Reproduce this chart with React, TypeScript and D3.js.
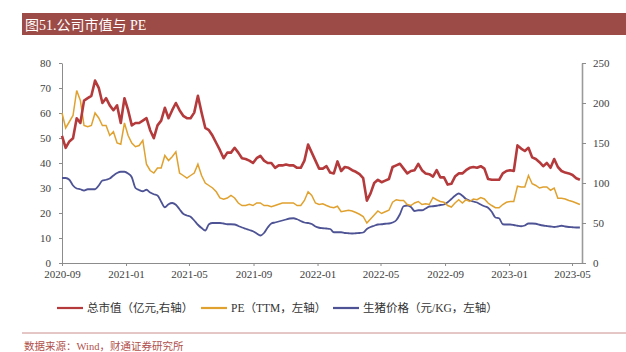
import React, { useEffect, useRef } from 'react';
import * as d3 from 'd3';

// weekly observations starting 2020-09-01
const startDate = '2020-09-01';

// 总市值 (亿元, right axis)
const marketCap = [
  159, 144, 152, 156, 181, 175, 203, 206, 209, 228, 219, 200, 206, 197, 191, 197, 175, 206, 191, 172,
  175, 175, 178, 181, 166, 156, 172, 178, 194, 181, 191, 200, 191, 184, 181, 181, 188, 209, 188, 169,
  166, 159, 150, 141, 131, 138, 138, 144, 138, 131, 130, 128, 125, 131, 134, 128, 125, 125, 119, 122,
  122, 123, 122, 122, 119, 119, 128, 148, 138, 128,
  118, 118, 121, 113, 112, 127, 115, 120, 119, 116, 114, 111, 106, 78, 87, 100, 104, 101, 103, 105,
  120, 122, 124, 118, 112, 115, 116, 124, 116, 112, 111, 108, 116, 107, 107, 98, 99, 108, 112, 112,
  116, 119, 120, 119, 121, 118, 105, 104, 104, 104, 112, 115, 116, 115, 147, 143, 140, 144, 132, 130,
  126, 121, 125, 119, 130, 120, 115, 113, 112, 110, 106, 104,
];

// PE TTM (left axis)
const pe = [
  60, 54, 56.5, 59, 69, 65, 55, 54.5, 55, 60, 58, 55, 55, 51, 52.5, 48, 47.5, 56, 51, 48,
  46.5, 47, 49, 39.5, 37, 36, 38, 38, 43, 41, 42.5, 44.5, 36, 35, 34, 35, 36, 39.5, 35, 32,
  31, 30, 28.5, 26, 25.5, 26, 27, 26, 24, 23, 23, 23.5, 23, 24, 24, 23, 23, 22.5, 23, 23.5,
  24, 24, 24, 24, 23, 23, 25, 28.5, 27, 24,
  23.4, 23.7, 23, 22.4, 22.1, 22.7, 20.5, 20.8, 21.1, 20.8, 20.2, 19.5, 18.6, 16, 17.6, 19.2, 20.8, 19.8, 20.5, 21.1,
  24.3, 25.3, 25, 25, 23.4, 23, 24, 24.6, 23.4, 23.7, 23.4, 26.2, 25.3, 24.6, 24.3, 23, 22.4, 24, 25.3, 24,
  25.3, 24.6, 25.6, 25.3, 26.2, 25.6, 24, 23, 22.1, 22.1, 23.4, 24.3, 24.6, 24.6, 30.7, 30.4, 30.4, 35, 31.7, 31,
  30, 30.4, 30.4, 29.1, 30, 25.9, 25.9, 25.6, 25, 24.6, 24, 23.4,
];

// 生猪价格 (元/KG, left axis)
const hogPrice = [
  34, 34, 33.3, 31, 29.8, 29.5, 29, 29.5, 29.5, 29.5, 31, 33, 33.3, 33.8, 35, 36, 36.5, 36.5, 35.8, 34.3,
  30, 29.2, 28.7, 29.3, 28.2, 27.5, 27, 24.5, 22.3, 23.5, 24, 23.3, 21.5, 19.7, 19, 18.5, 17, 15.3, 14, 13,
  15.5, 16, 16, 16, 15.8, 15.5, 15.5, 15.4, 14.8, 14.2, 13.7, 13.2, 12.7, 11.8, 11, 12, 14.2, 15.8, 16.2, 16.6,
  17, 17.4, 17.8, 17.9, 17.5, 16.8, 16.2, 16, 15.6, 14.6,
  14.1, 13.9, 13.8, 13.6, 12.3, 12.3, 12.3, 12, 11.9, 11.8, 11.9, 12, 12.2, 13.6, 14.4, 14.9, 15.4, 15.5, 15.7, 15.8,
  16.2, 17.1, 19.5, 22.7, 23, 22.4, 20.8, 21.1, 21.1, 21.8, 22.6, 22.7, 22.9, 23.2, 23.4, 24.3, 25.6, 26.9, 27.8, 26.9,
  25.6, 25, 24.6, 24.2, 23.4, 22.7, 22.1, 20.5, 18.2, 17.9, 15.5, 15.4, 15.4, 15.2, 14.9, 14.7, 15, 15.8, 15.8, 15.7,
  15.3, 15, 14.8, 14.6, 14.4, 14.6, 14.9, 14.6, 14.4, 14.3, 14.2, 14.2,
];

const leftTicks = [0, 10, 20, 30, 40, 50, 60, 70, 80];
const rightTicks = [0, 50, 100, 150, 200, 250];
const xTicks = ['2020-09-01', '2021-01-01', '2021-05-01', '2021-09-01', '2022-01-01', '2022-05-01', '2022-09-01', '2023-01-01', '2023-05-01'];
const xEnd = '2023-05-20';

const legendItems = [
  { label: '总市值（亿元,右轴）', color: '#B43A3C' },
  { label: 'PE（TTM，左轴）', color: '#E0A12E' },
  { label: '生猪价格（元/KG，左轴）', color: '#4D5394' },
];

const FONT = '"Liberation Serif", "Noto Sans CJK SC", serif';

const App: React.FC = () => {
  const svgRef = useRef<SVGSVGElement>(null);

  useEffect(() => {
    if (!svgRef.current) return;
    const svg = d3.select(svgRef.current);
    svg.selectAll('*').remove();

    const parse = d3.timeParse('%Y-%m-%d');
    const t0 = parse(startDate) as Date;
    const dates = marketCap.map((_, i) => d3.timeDay.offset(t0, 7 * i));

    const left = 62, right = 582, top = 63, bottom = 263;

    const x = d3.scaleTime()
      .domain([t0, parse(xEnd) as Date])
      .range([left, right]);
    const yL = d3.scaleLinear().domain([0, 80]).range([bottom, top]);
    const yR = d3.scaleLinear().domain([0, 250]).range([bottom, top]);

    // title bar
    svg.append('rect')
      .attr('x', 22).attr('y', 13).attr('width', 604).attr('height', 22)
      .attr('fill', '#9C4B47');
    svg.append('text')
      .attr('x', 25).attr('y', 30)
      .attr('fill', '#fff')
      .attr('font-family', FONT)
      .attr('font-size', 14)
      .text('图51.公司市值与 PE');

    const styleAxis = (g: d3.Selection<SVGGElement, unknown, null, undefined>) => {
      g.selectAll('.domain').attr('stroke', '#8c8c8c');
      g.selectAll('.tick line').attr('stroke', '#8c8c8c');
      g.selectAll('.tick text')
        .attr('fill', '#404040')
        .attr('font-family', FONT)
        .attr('font-size', 11);
    };

    // x axis
    svg.append('g')
      .attr('transform', `translate(0,${bottom})`)
      .call(d3.axisBottom(x)
        .tickValues(xTicks.map(d => parse(d) as Date))
        .tickFormat(d3.timeFormat('%Y-%m') as any)
        .tickSize(3)
        .tickSizeOuter(0)
        .tickPadding(4))
      .call(styleAxis);

    // left axis
    svg.append('g')
      .attr('transform', `translate(${left},0)`)
      .call(d3.axisLeft(yL).tickValues(leftTicks).tickSize(3).tickSizeOuter(0).tickPadding(8))
      .call(styleAxis);

    // right axis
    const gR = svg.append('g')
      .attr('transform', `translate(${right},0)`)
      .call(d3.axisRight(yR).tickValues(rightTicks).tickSize(4).tickSizeOuter(0).tickPadding(7))
      .call(styleAxis);
    gR.select('.domain').attr('stroke-width', 1.6).attr('stroke', '#9a9a9a');

    const lineL = d3.line<number>()
      .x((_, i) => x(dates[i]))
      .y(d => yL(d));
    const lineR = d3.line<number>()
      .x((_, i) => x(dates[i]))
      .y(d => yR(d));

    svg.append('path')
      .datum(hogPrice)
      .attr('fill', 'none')
      .attr('stroke', legendItems[2].color)
      .attr('stroke-width', 1.8)
      .attr('d', lineL.curve(d3.curveMonotoneX));

    svg.append('path')
      .datum(pe)
      .attr('fill', 'none')
      .attr('stroke', legendItems[1].color)
      .attr('stroke-width', 1.5)
      .attr('d', d3.line<number>().x((_, i) => x(dates[i])).y(d => yL(d)));

    svg.append('path')
      .datum(marketCap)
      .attr('fill', 'none')
      .attr('stroke', legendItems[0].color)
      .attr('stroke-width', 2.6)
      .attr('stroke-linejoin', 'round')
      .attr('d', lineR);

    // legend
    const legendX = [57, 201, 333];
    legendItems.forEach((item, i) => {
      const g = svg.append('g').attr('transform', `translate(${legendX[i]},308)`);
      g.append('line')
        .attr('x1', 0).attr('x2', 26).attr('y1', 0).attr('y2', 0)
        .attr('stroke', item.color).attr('stroke-width', 2.2);
      g.append('text')
        .attr('x', 30).attr('y', 4)
        .attr('fill', '#333')
        .attr('font-family', FONT)
        .attr('font-size', 11.5)
        .text(item.label);
    });

    // footer
    svg.append('line')
      .attr('x1', 22).attr('x2', 626).attr('y1', 333).attr('y2', 333)
      .attr('stroke', '#C98F8C').attr('stroke-width', 1);
    svg.append('text')
      .attr('x', 24).attr('y', 350)
      .attr('fill', '#B0504C')
      .attr('font-family', FONT)
      .attr('font-size', 10.5)
      .text('数据来源：Wind，财通证券研究所');
  }, []);

  return (
    <div style={{ position: 'absolute', left: 0, top: 0 }}>
      <svg ref={svgRef} width={626} height={352} style={{ display: 'block' }}></svg>
    </div>
  );
};

export default App;
